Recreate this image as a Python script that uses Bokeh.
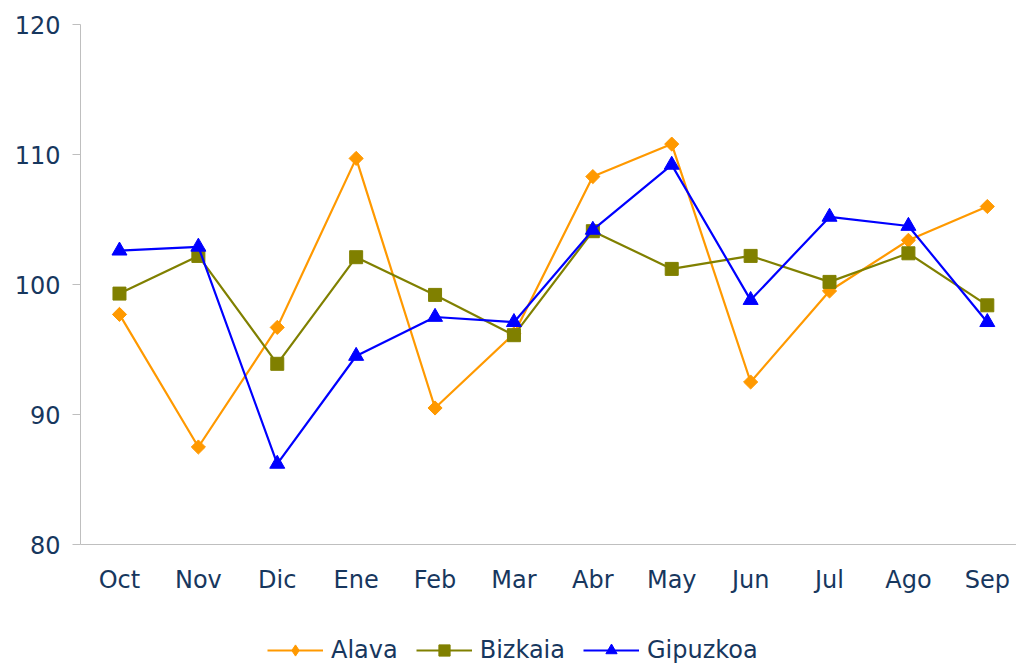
import math
from bokeh.plotting import figure
from bokeh.layouts import column
from bokeh.models import Legend, LegendItem, Range1d, FixedTicker
from bokeh.embed import file_html
from bokeh.resources import INLINE

months = ["Oct", "Nov", "Dic", "Ene", "Feb", "Mar", "Abr", "May", "Jun", "Jul", "Ago", "Sep"]
alava = [97.7, 87.5, 96.7, 109.7, 90.5, 96.2, 108.3, 110.8, 92.5, 99.5, 103.4, 106.0]
bizkaia = [99.3, 102.2, 93.9, 102.1, 99.2, 96.1, 104.1, 101.2, 102.2, 100.2, 102.4, 98.4]
gipuzkoa = [102.6, 102.9, 86.2, 94.5, 97.5, 97.1, 104.2, 109.2, 98.8, 105.2, 104.5, 97.1]
y_ticks = [80, 90, 100, 110, 120]

FONT = "DejaVu Sans"
TXT = "#17375E"
AX = "#BFBFBF"

xs = list(range(len(months)))

p = figure(frame_width=936, frame_height=520, output_backend="svg", toolbar_location=None,
           x_range=Range1d(-0.494, 11.37), y_range=Range1d(80, 120),
           min_border_left=80, min_border_right=0, min_border_top=24, min_border_bottom=56)
p.outline_line_color = None
p.xgrid.visible = False
p.ygrid.visible = False

p.xaxis.ticker = FixedTicker(ticks=xs)
p.xaxis.major_label_overrides = {i: m for i, m in enumerate(months)}
p.yaxis.ticker = FixedTicker(ticks=y_ticks)

for ax in (p.xaxis[0], p.yaxis[0]):
    ax.axis_line_color = AX
    ax.axis_line_width = 1
    ax.major_tick_line_color = AX
    ax.minor_tick_line_color = None
    ax.major_label_text_color = TXT
    ax.major_label_text_font = FONT
    ax.major_label_text_font_size = "24px"
p.xaxis.major_tick_out = 0
p.xaxis.major_tick_in = 0
p.xaxis.major_label_standoff = 21
p.yaxis.major_tick_out = 8
p.yaxis.major_tick_in = 0
p.yaxis.major_label_standoff = 12

series = [
    ("Alava", alava, "#FF9900", "square", 10, math.pi / 4, "diamond"),
    ("Bizkaia", bizkaia, "#808000", "square", 13, 0, "square"),
    ("Gipuzkoa", gipuzkoa, "#0000FF", "triangle", 15, 0, "triangle"),
]

# legend strip below the chart
lp = figure(frame_width=1016, frame_height=64, output_backend="svg", toolbar_location=None,
            x_axis_type=None, y_axis_type=None, min_border=0,
            x_range=Range1d(0, 1), y_range=Range1d(0, 1))
lp.outline_line_color = None
lp.xgrid.visible = False
lp.ygrid.visible = False

items = []
for name, vals, col, mk, sz, ang, lmk in series:
    p.line(xs, vals, line_color=col, line_width=2.2)
    p.scatter(xs, vals, marker=mk, size=sz, angle=ang, fill_color=col, line_color=col)
    # legend-only glyphs (no data drawn)
    lr = lp.line([float("nan")], [float("nan")], line_color=col, line_width=2.2)
    lg = lp.scatter([float("nan")], [float("nan")], marker=lmk, size=12, fill_color=col, line_color=col)
    items.append(LegendItem(label=name, renderers=[lr, lg]))

legend = Legend(items=items, orientation="horizontal", location=(267, 0),
                label_text_font=FONT, label_text_font_size="24px", label_text_color=TXT,
                glyph_width=56, glyph_height=28, spacing=18, label_standoff=8,
                border_line_color=None, background_fill_alpha=0, margin=0, padding=0)
lp.add_layout(legend, "center")

layout = column(p, lp, spacing=0)
open("out.html", "w").write(file_html(layout, INLINE))
